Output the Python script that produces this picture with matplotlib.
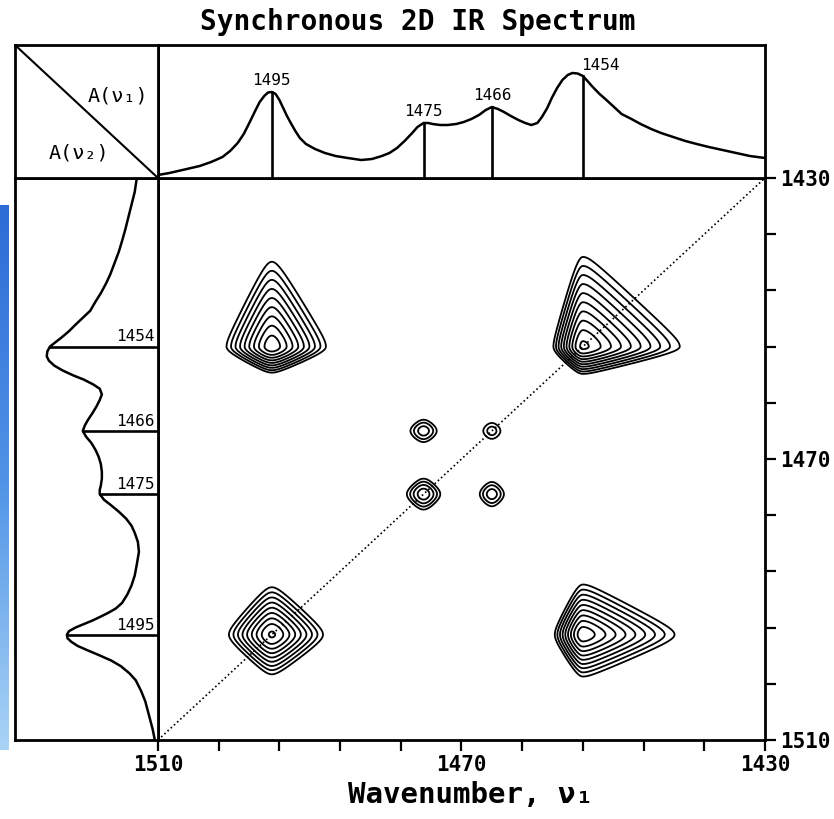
import numpy as np
import matplotlib.pyplot as plt
from matplotlib.colors import LinearSegmentedColormap

# absorbance spectrum (cm-1, absorbance)
wavenumber = [1510.0, 1508.5, 1506.2, 1504.5, 1503.0, 1501.5, 1500.5, 1499.5, 1498.7,
              1497.9, 1497.2, 1496.6, 1496.0, 1495.5, 1495.0, 1494.5, 1494.0, 1493.5,
              1493.0, 1492.5, 1491.9, 1491.3, 1490.5, 1489.3, 1488.0, 1486.6, 1485.0,
              1483.2, 1481.8, 1480.5, 1479.5, 1478.5, 1477.5, 1476.5, 1475.8, 1475.0,
              1474.4, 1473.8, 1472.8, 1471.8, 1470.7, 1469.7, 1468.7, 1467.7, 1466.8,
              1466.0, 1465.2, 1464.4, 1463.5, 1462.5, 1461.6, 1460.8, 1460.0, 1459.4,
              1458.7, 1458.1, 1457.4, 1456.7, 1456.0, 1455.4, 1454.7, 1454.0, 1453.4,
              1452.7, 1451.8, 1450.9, 1449.9, 1448.9, 1447.6, 1446.4, 1445.0, 1443.7,
              1442.1, 1440.5, 1439.0, 1437.4, 1435.6, 1433.8, 1432.0, 1430.0]
absorbance = [0.03, 0.05, 0.09, 0.12, 0.16, 0.21, 0.27, 0.35, 0.44,
              0.56, 0.67, 0.76, 0.82, 0.855, 0.86, 0.84, 0.78, 0.70,
              0.62, 0.55, 0.47, 0.40, 0.34, 0.29, 0.25, 0.22, 0.20,
              0.18, 0.19, 0.22, 0.25, 0.30, 0.37, 0.45, 0.51, 0.55,
              0.55, 0.54, 0.53, 0.53, 0.54, 0.56, 0.59, 0.63, 0.68,
              0.71, 0.69, 0.66, 0.62, 0.58, 0.55, 0.53, 0.55, 0.61,
              0.70, 0.80, 0.90, 0.98, 1.03, 1.05, 1.045, 1.02, 0.97,
              0.91, 0.84, 0.78, 0.71, 0.64, 0.59, 0.54, 0.49, 0.45,
              0.41, 0.37, 0.34, 0.31, 0.28, 0.25, 0.22, 0.20]

# labelled bands
band_labels = [1495, 1475, 1466, 1454]

# dynamic spectrum, first pair of bands (in phase with each other)
pair1_centers = [1495, 1454]
pair1_amps = [0.76, 1.00]
pair1_width_hi = [1.14, 0.64]   # decay length toward higher wavenumber
pair1_width_lo = [1.40, 2.51]   # decay length toward lower wavenumber
# second pair, out of phase with the first
pair2_centers = [1475, 1466]
pair2_amps = [0.245, 0.14]
pair2_width_hi = [0.75, 0.66]
pair2_width_lo = [0.75, 0.66]

tick_values = [1430, 1438, 1446, 1454, 1462, 1470, 1478, 1486, 1494, 1502, 1510]
labelled_ticks = [1430, 1470, 1510]

MONO = ['DejaVu Sans Mono', 'DejaVu Sans']
W, H = 834, 819


def box(x0, y0, x1, y1):
    return [x0 / W, 1 - y1 / H, (x1 - x0) / W, (y1 - y0) / H]


def band(nu, c, w_hi, w_lo, core=1.0):
    # exponential wings with a rounded top
    u = nu - c
    w = np.where(u > 0, w_hi, w_lo)
    return np.exp(-(np.sqrt(u ** 2 + core ** 2) - core) / w)


fig = plt.figure(figsize=(W / 100, H / 100), dpi=100)
fig.patch.set_facecolor('white')

ax = fig.add_axes(box(158, 178, 765, 740))
ax_top = fig.add_axes(box(158, 45, 765, 178))
ax_left = fig.add_axes(box(15, 178, 158, 740))
ax_corner = fig.add_axes(box(15, 45, 158, 178))

# ---- synchronous correlation map ----
nu = np.linspace(1510, 1430, 801)
d1 = sum(a * band(nu, c, wh, wl) for c, a, wh, wl in
         zip(pair1_centers, pair1_amps, pair1_width_hi, pair1_width_lo))
d2 = sum(a * band(nu, c, wh, wl) for c, a, wh, wl in
         zip(pair2_centers, pair2_amps, pair2_width_hi, pair2_width_lo))
sync = np.outer(d1, d1) + np.outer(d2, d2)

levels = 0.9 * 0.6 ** np.arange(9, -1, -1)
ax.contour(nu, nu, sync, levels=levels, colors='black', linewidths=1.3)
ax.plot([1510, 1430], [1510, 1430], color='black', lw=1.2, linestyle=(0, (1, 1.6)))

ax.set_xlim(1510, 1430)
ax.set_ylim(1510, 1430)
ax.yaxis.tick_right()
ax.set_xticks(tick_values)
ax.set_yticks(tick_values)
ax.set_xticklabels([str(t) if t in labelled_ticks else '' for t in tick_values])
ax.set_yticklabels([str(t) if t in labelled_ticks else '' for t in tick_values])
ax.tick_params(direction='out', length=8, width=1.6, pad=3, labelsize=15)
for lab in ax.get_xticklabels() + ax.get_yticklabels():
    lab.set_fontfamily(MONO)
    lab.set_fontweight('bold')
for sp in ax.spines.values():
    sp.set_linewidth(2.0)

# ---- top spectrum, A(nu1) ----
peak_height = dict(zip(wavenumber, absorbance))
ax_top.plot(wavenumber, absorbance, color='black', lw=1.8)
for b in band_labels:
    h = peak_height[b]
    ax_top.plot([b, b], [0, h], color='black', lw=1.9)
    if b == 1454:
        ax_top.text(b + 0.2, h + 0.03, str(b), ha='left', va='bottom',
                    fontsize=11.5, family=MONO)
    else:
        ax_top.text(b, h + 0.04, str(b), ha='center', va='bottom',
                    fontsize=11.5, family=MONO)
ax_top.set_xlim(1510, 1430)
ax_top.set_ylim(0, 1.33)
ax_top.set_xticks([])
ax_top.set_yticks([])
for sp in ax_top.spines.values():
    sp.set_linewidth(2.0)

# ---- left spectrum, A(nu2) ----
ax_left.plot(absorbance, wavenumber, color='black', lw=1.8)
for b in band_labels:
    h = peak_height[b]
    ax_left.plot([0, h], [b, b], color='black', lw=1.9)
    ax_left.text(0.03, b - 0.3, str(b), ha='right', va='bottom',
                 fontsize=11.5, family=MONO)
ax_left.set_xlim(1.35, 0)
ax_left.set_ylim(1510, 1430)
ax_left.set_xticks([])
ax_left.set_yticks([])
for sp in ax_left.spines.values():
    sp.set_linewidth(2.0)

# ---- corner key ----
ax_corner.plot([0, 1], [1, 0], color='black', lw=1.5, transform=ax_corner.transAxes)
ax_corner.text(0.72, 0.62, 'A(ν₁)', ha='center', va='center', fontsize=14.5,
               family=MONO, transform=ax_corner.transAxes)
ax_corner.text(0.45, 0.19, 'A(ν₂)', ha='center', va='center', fontsize=14.5,
               family=MONO, transform=ax_corner.transAxes)
ax_corner.set_xlim(0, 1)
ax_corner.set_ylim(0, 1)
ax_corner.set_xticks([])
ax_corner.set_yticks([])
for sp in ax_corner.spines.values():
    sp.set_linewidth(2.0)

# ---- titles ----
fig.text(418 / W, 1 - 22 / H, 'Synchronous 2D IR Spectrum', ha='center', va='center',
         fontsize=20, fontweight='bold', family=MONO)
fig.text(470 / W, 1 - 795 / H, 'Wavenumber, ν₁', ha='center', va='center',
         fontsize=21, fontweight='bold', family=MONO)

# blue strip along the left margin
strip = fig.add_axes(box(0, 205, 9, 750))
grad = np.linspace(0, 1, 256).reshape(-1, 1)
strip_cmap = LinearSegmentedColormap.from_list('strip', ['#2c6cd6', '#4f93e6', '#a9d4f6'])
strip.imshow(grad, aspect='auto', cmap=strip_cmap)
strip.axis('off')

fig.savefig('out.png', dpi=100)
